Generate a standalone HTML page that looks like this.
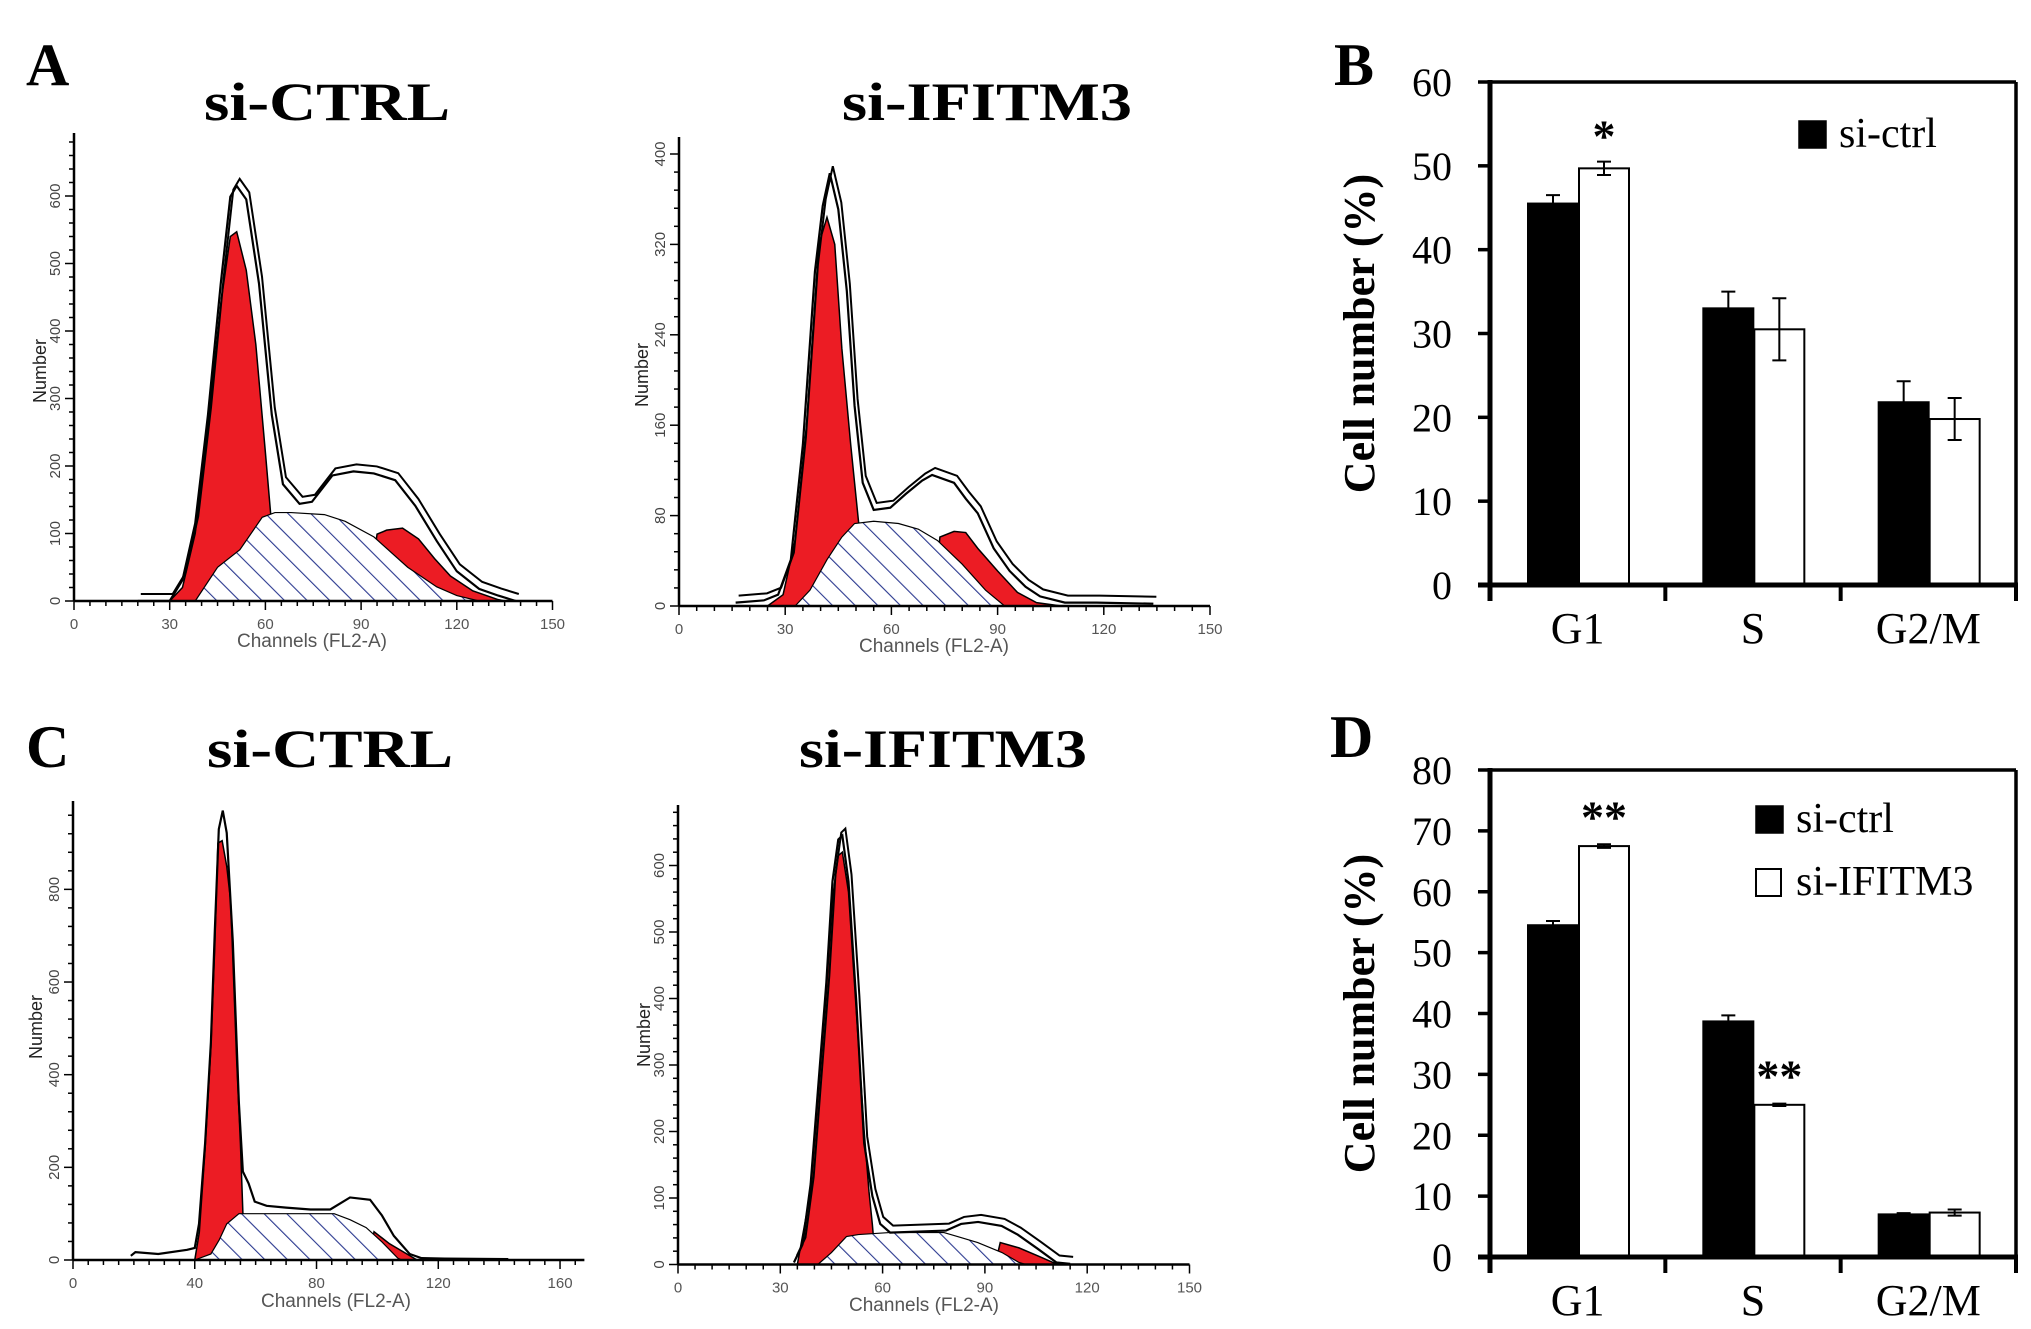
<!DOCTYPE html>
<html><head><meta charset="utf-8"><style>
html,body{margin:0;padding:0;background:#fff;}
svg{display:block;}
</style></head><body>
<svg id="fig" width="2031" height="1329" viewBox="0 0 2031 1329" xmlns="http://www.w3.org/2000/svg">
<defs>
<pattern id="hatch" patternUnits="userSpaceOnUse" width="16" height="16" patternTransform="rotate(-45)">
<rect width="16" height="16" fill="#fff"/>
<line x1="0" y1="0" x2="0" y2="16" stroke="#2b3990" stroke-width="2.2"/>
</pattern>
</defs>
<g font-family="'Liberation Serif', serif" font-weight="bold" fill="#000">
<text x="26" y="85" font-size="60">A</text>
<text x="1334" y="85" font-size="60">B</text>
<text x="26" y="767" font-size="60">C</text>
<text x="1330" y="757" font-size="60">D</text>
<text x="204" y="120" font-size="54" textLength="246" lengthAdjust="spacingAndGlyphs">si-CTRL</text>
<text x="842" y="120" font-size="54" textLength="290" lengthAdjust="spacingAndGlyphs">si-IFITM3</text>
<text x="207" y="767" font-size="54" textLength="246" lengthAdjust="spacingAndGlyphs">si-CTRL</text>
<text x="799" y="767" font-size="54" textLength="288" lengthAdjust="spacingAndGlyphs">si-IFITM3</text>
</g>
<g id="plots"></g>
</svg>
<script>
// ---------- Histogram data: [channel, count] pairs ----------
const aCtrlEnv=[[20,0],[30,0],[34,31],[38,115],[42,276],[46,470],[49,599],[51,615],[54,595],[58,470],[62,276],[65.5,173],[70.7,144],[74.6,147],[81,186],[87.6,192],[94,189],[100.7,179],[107,141],[113.7,89],[120,44],[127,18],[133,8],[138.5,0]];
const aCtrlG1=[[30,0],[34,20],[38,100],[42,260],[46,440],[49,540],[51,547],[54,490],[57,380],[60,220],[62,110],[65,0]];
const aCtrlS=[[38,0],[45,50],[52,76],[59,124],[63,131],[68,131],[78.5,128],[85,118],[94,95],[104.6,50],[113.7,21],[120,8],[127,0]];
const aCtrlG2=[[92,0],[95,99],[98,105],[103,108],[108,92],[113,63],[118,37],[125,15],[133,2],[135,0]];

const aKdEnv=[[16,3],[24,5],[28,10],[31.6,41],[35,143],[38.4,296],[40.6,354],[42.6,383],[45,351],[47.4,279],[49.6,177],[51.9,109],[55,85],[59.7,87],[64,99],[68.7,111],[71.5,116],[77.7,109],[81,95],[84.4,82],[88.9,51],[93.4,31],[97.9,17],[102,8.5],[109,3],[118,3],[134,2]];
const aKdG1=[[25,0],[29.4,10],[32.8,58],[36,160],[39.5,320],[41.8,344],[44,320],[46,228],[48.5,143],[50.7,75],[53,30],[56,0]];
const aKdS=[[32.8,0],[37,14],[41.8,41],[46,61],[49.6,73],[55,75],[62,73],[67.6,68],[73,58],[80,37],[86.6,14],[92,0]];
const aKdG2=[[72,0],[73.7,61],[77.7,66],[81,65],[84.4,51],[90,31],[95.6,12],[101,3],[108,0]];

const cCtrlEnv=[[19,9],[20.5,17],[28,13],[37.5,22],[40,26],[41.4,78],[43.4,252],[45.3,470],[46.6,713],[47.9,930],[49.2,970],[50.5,922],[52.5,687],[54.5,339],[55.8,191],[57.7,165],[59.7,126],[63.6,117],[70,113],[78,109],[84.5,109],[91,135],[97.6,130],[101.5,96],[105.4,52],[110.6,13],[114.5,4],[122,3],[143,2]];
const cCtrlG1=[[40,0],[41.5,60],[43.4,240],[45.3,460],[46.6,680],[47.6,900],[49,905],[50.5,850],[51.8,774],[53.8,426],[55,252],[55.8,104],[56.5,0]];
const cCtrlS=[[40,0],[45.3,13],[48,43],[50.5,78],[54.5,100],[85.8,100],[91,87],[96.3,70],[101.5,39],[106.7,4],[108,0]];
const cCtrlG2=[[97,0],[98.9,61],[104,35],[112,4],[113,0]];

const cKdEnv=[[34,3],[36.5,30],[38.9,121],[41.2,273],[43.5,424],[45.3,576],[47,639],[48.2,645],[50,576],[52.3,394],[54.6,182],[57,103],[59.3,61],[62.2,48],[78.6,51],[83,61],[88,64],[94.9,58],[99.6,45],[105.4,24],[111,3],[115,1]];
const cKdG1=[[35,0],[38.9,110],[41.2,260],[43.5,410],[45.3,550],[47,615],[48.2,620],[50,560],[52.3,380],[54.6,200],[56,110],[57,60],[58,0]];
const cKdS=[[41,0],[45,18],[49.4,42],[52.9,45],[62,48],[78,48],[82,42],[87.9,33],[95,18],[100,3],[102,0]];
const cKdG2=[[93,0],[94.5,33],[100,25],[106,12],[110,3],[112,0]];

// ---------- Bar chart data ----------
const categories=["G1","S","G2/M"];
const bCtrl=[45.5,33,21.8];
const bCtrlErr=[1,2,2.5];
const bKd=[49.7,30.5,19.8];
const bKdErr=[0.8,3.7,2.5];
const bTicks=[0,10,20,30,40,50,60];
const dCtrl=[54.5,38.7,7];
const dCtrlErr=[0.7,1,0.2];
const dKd=[67.5,25,7.3];
const dKdErr=[0.3,0.2,0.5];
const dTicks=[0,10,20,30,40,50,60,70,80];
const aCtrlYTicks=[0,100,200,300,400,500,600];
const aKdYTicks=[0,80,160,240,320,400];
const cCtrlYTicks=[0,200,400,600,800];
const cKdYTicks=[0,100,200,300,400,500,600];
const xTicks150=[0,30,60,90,120,150];
const xTicks160=[0,40,80,120,160];

const NS="http://www.w3.org/2000/svg";
const root=document.getElementById('plots');
function mk(tag,attrs,parent){const e=document.createElementNS(NS,tag);for(const k in attrs)e.setAttribute(k,attrs[k]);(parent||root).appendChild(e);return e;}

function histo(name,cfg,env,g1,s,g2,yTicks,xTicks,dbl){
  const g=mk('g',{});
  
  
  const X=ch=>cfg.x0+ch*cfg.pxCh, Y=c=>cfg.base-c*cfg.pxC;
  const area=pts=>'M'+X(pts[0][0])+','+cfg.base+' '+pts.map(p=>'L'+X(p[0])+','+Y(p[1])).join(' ')+' L'+X(pts[pts.length-1][0])+','+cfg.base+'Z';
  const line=pts=>pts.map((p,i)=>(i?'L':'M')+X(p[0])+','+Y(p[1])).join(' ');
  let e=mk('path',{d:area(g1),fill:'#ec1c24',stroke:'#000','stroke-width':1.5},g);
  
  
  e=mk('path',{d:area(g2),fill:'#ec1c24',stroke:'#000','stroke-width':1.5},g);
  
  
  e=mk('path',{d:area(s),fill:'url(#hatch)',stroke:'#000','stroke-width':1.2},g);
  
  
  e=mk('path',{d:line(env),fill:'none',stroke:'#000','stroke-width':2.2},g);
  
  
  if(dbl){
    e=mk('path',{d:line(env),fill:'none',stroke:'#000','stroke-width':2,transform:'translate(3,-7)'},g);
    
    
  }
  const xEnd=X(cfg.xMax);
  e=mk('line',{x1:cfg.x0,y1:cfg.base,x2:xEnd,y2:cfg.base,stroke:'#000','stroke-width':2.5},g);
  
  
  e=mk('line',{x1:cfg.x0,y1:cfg.base,x2:cfg.x0,y2:cfg.top,stroke:'#000','stroke-width':2.5},g);
  
  
  for(let ch=0;ch<=cfg.xMax+0.01;ch+=cfg.xMinor){
    const major=xTicks.some(t=>Math.abs(t-ch)<0.01);
    mk('line',{x1:X(ch),y1:cfg.base,x2:X(ch),y2:cfg.base+(major?9:5),stroke:'#000','stroke-width':1.5},g);
  }
  xTicks.forEach(t=>{
    const tx=mk('text',{x:X(t),y:cfg.base+28,'font-size':15,'text-anchor':'middle',fill:'#555','font-family':"'Liberation Sans', sans-serif"},g);
    tx.textContent=t;
    
    
  });
  const step=yTicks[1]-yTicks[0];
  for(let c=0;Y(c)>=cfg.top;c+=step/5){
    const major=Math.abs((c/step)-Math.round(c/step))<0.01;
    mk('line',{x1:cfg.x0,y1:Y(c),x2:cfg.x0-(major?9:5),y2:Y(c),stroke:'#000','stroke-width':1.5},g);
  }
  yTicks.forEach(t=>{
    const ty=Y(t);
    const tx=mk('text',{x:0,y:0,'font-size':15,'text-anchor':'middle',fill:'#444','font-family':"'Liberation Sans', sans-serif",transform:`translate(${cfg.x0-14},${ty}) rotate(-90)`},g);
    tx.textContent=t;
    
    
  });
  let t=mk('text',{x:cfg.xlx,y:cfg.xly,'font-size':19,'text-anchor':'middle',fill:'#555','font-family':"'Liberation Sans', sans-serif"},g);
  t.textContent='Channels (FL2-A)';
  
  
  t=mk('text',{x:0,y:0,'font-size':18,'text-anchor':'middle',fill:'#222','font-family':"'Liberation Sans', sans-serif",transform:`translate(${cfg.ylx},${cfg.yly}) rotate(-90)`},g);
  t.textContent='Number';
  
  
}

histo('histogram-a-ctrl',{x0:74,pxCh:3.19,base:601,pxC:0.675,top:133,xMax:150,xMinor:5,xlx:312,xly:647,ylx:46,yly:371},aCtrlEnv,aCtrlG1,aCtrlS,aCtrlG2,aCtrlYTicks,xTicks150,true);
histo('histogram-a-ifitm3',{x0:679,pxCh:3.54,base:606,pxC:1.13,top:137,xMax:150,xMinor:5,xlx:934,xly:652,ylx:648,yly:375},aKdEnv,aKdG1,aKdS,aKdG2,aKdYTicks,xTicks150,true);
histo('histogram-c-ctrl',{x0:73,pxCh:3.044,base:1260,pxC:0.4633,top:801,xMax:168,xMinor:5,xlx:336,xly:1307,ylx:42,yly:1027},cCtrlEnv,cCtrlG1,cCtrlS,cCtrlG2,cCtrlYTicks,xTicks160,false);
histo('histogram-c-ifitm3',{x0:678,pxCh:3.41,base:1264.5,pxC:0.665,top:805,xMax:150,xMinor:5,xlx:924,xly:1311,ylx:650,yly:1035},cKdEnv,cKdG1,cKdS,cKdG2,cKdYTicks,xTicks150,true);

function bars(name,cfg,ctrl,ctrlErr,kd,kdErr,ticks,stars,legend2){
  const g=mk('g',{'font-family':"'Liberation Serif', serif"});
  
  
  const yMax=ticks[ticks.length-1];
  const Y=v=>cfg.bottom-(v/yMax)*(cfg.bottom-cfg.top);
  const gw=(cfg.right-cfg.left)/categories.length;
  categories.forEach((c,i)=>{
    const gx=cfg.left+i*gw;
    const series=[[ctrl,ctrlErr,'#000',38,'bar-ctrl-'],[kd,kdErr,'#fff',89,'bar-ifitm3-']];
    series.forEach(([vals,errs,fill,off,nm])=>{
      const x=gx+off,w=50,v=vals[i];
      const r=mk('rect',{x:x,y:Y(v),width:w,height:Y(0)-Y(v),fill:fill,stroke:'#000','stroke-width':2},g);
      
      
      const cx=x+w/2,e=errs[i];
      const eb=mk('path',{d:`M${cx},${Y(v-e)}L${cx},${Y(v+e)}M${cx-7},${Y(v+e)}L${cx+7},${Y(v+e)}M${cx-7},${Y(v-e)}L${cx+7},${Y(v-e)}`,stroke:'#000','stroke-width':2,fill:'none'},g);
      
      
    });
    const lt=mk('text',{x:gx+gw/2,y:cfg.bottom+58,'font-size':44,'text-anchor':'middle'},g);
    lt.textContent=c;
    
    
    if(stars[i]){
      const st=mk('text',{x:gx+89+25,y:Y(kd[i]+kdErr[i])-(stars[i].length>1?12:10),'font-size':46,'font-weight':'bold','text-anchor':'middle'},g);
      st.textContent=stars[i];
      
      
    }
  });
  mk('line',{x1:cfg.left,y1:cfg.top,x2:cfg.right,y2:cfg.top,stroke:'#000','stroke-width':3.5},g);
  mk('line',{x1:cfg.right,y1:cfg.top,x2:cfg.right,y2:cfg.bottom,stroke:'#000','stroke-width':3.5},g);
  let ax=mk('line',{x1:cfg.left,y1:cfg.top-2,x2:cfg.left,y2:cfg.bottom+16,stroke:'#000','stroke-width':5},g);
  
  
  ax=mk('line',{x1:cfg.left-12,y1:cfg.bottom,x2:cfg.right+2,y2:cfg.bottom,stroke:'#000','stroke-width':5},g);
  
  
  for(let i=1;i<=categories.length;i++){
    mk('line',{x1:cfg.left+i*gw,y1:cfg.bottom,x2:cfg.left+i*gw,y2:cfg.bottom+16,stroke:'#000','stroke-width':4},g);
  }
  ticks.forEach(t=>{
    mk('line',{x1:cfg.left-12,y1:Y(t),x2:cfg.left,y2:Y(t),stroke:'#000','stroke-width':3.5},g);
    const tx=mk('text',{x:cfg.left-38,y:Y(t)+14,'font-size':40,'text-anchor':'end'},g);
    tx.textContent=t;
    
    
  });
  const tt=mk('text',{x:0,y:0,'font-size':44,'font-weight':'bold','text-anchor':'middle',transform:`translate(${cfg.left-116},${(cfg.top+cfg.bottom)/2}) rotate(-90)`},g);
  tt.textContent='Cell number (%)';
  
  
  let s=mk('rect',{x:cfg.lx,y:cfg.ly,width:27,height:27,fill:'#000',stroke:'#000','stroke-width':1.5},g);
  
  
  let lt=mk('text',{x:cfg.lx+40,y:cfg.ly+26,'font-size':42},g);
  lt.textContent='si-ctrl';
  
  
  if(legend2){
    s=mk('rect',{x:cfg.lx,y:cfg.ly+63,width:25,height:27,fill:'#fff',stroke:'#000','stroke-width':2},g);
    
    
    lt=mk('text',{x:cfg.lx+40,y:cfg.ly+89,'font-size':42},g);
    lt.textContent='si-IFITM3';
    
    
  }
}
bars('bar-chart-b',{left:1490,right:2016,top:82,bottom:585,lx:1799,ly:121},bCtrl,bCtrlErr,bKd,bKdErr,bTicks,['*','',''],false);
bars('bar-chart-d',{left:1490,right:2016,top:770,bottom:1257,lx:1756,ly:806},dCtrl,dCtrlErr,dKd,dKdErr,dTicks,['**','**',''],true);
</script>
</body></html>
